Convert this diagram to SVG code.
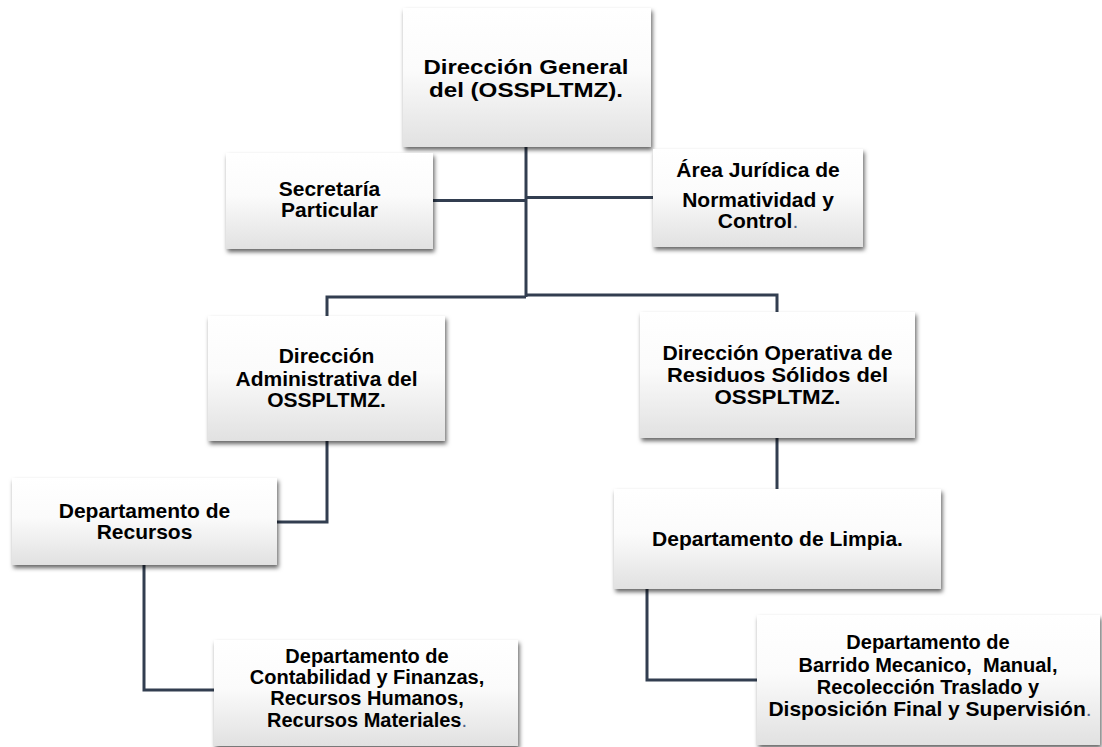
<svg xmlns="http://www.w3.org/2000/svg" width="1102" height="747" viewBox="0 0 1102 747">
<defs>
<linearGradient id="g" x1="0" y1="0" x2="0" y2="1">
<stop offset="0" stop-color="#ffffff"/>
<stop offset="0.45" stop-color="#fbfbfb"/>
<stop offset="1" stop-color="#e1e1e1"/>
</linearGradient>
<filter id="sh" x="-10%" y="-10%" width="125%" height="130%">
<feDropShadow dx="1.5" dy="3" stdDeviation="2.2" flood-color="#000" flood-opacity="0.6"/>
</filter>
</defs>
<style>
.box{fill:url(#g);filter:url(#sh);}
.t{font-family:"Liberation Sans",Arial,sans-serif;font-weight:bold;font-size:21px;fill:#000;text-anchor:middle;}
.dot{fill:#4f6185;font-weight:normal;}
.c{fill:none;stroke:#323e50;stroke-width:3;}
</style>
<rect width="1102" height="747" fill="#ffffff"/>
<g id="connectors">
<path class="c" d="M526,146 V297"/>
<path class="c" d="M433,200.5 H526"/>
<path class="c" d="M526,197.5 H653"/>
<path class="c" d="M327,316 V297 H526"/>
<path class="c" d="M526,295 H777 V312"/>
<path class="c" d="M327,440 V522 H277"/>
<path class="c" d="M777,438 V489"/>
<path class="c" d="M144,565 V690 H214"/>
<path class="c" d="M647,589 V680 H757"/>
</g>
<g id="n1">
<rect class="box" x="403" y="8" width="248" height="139"/>
<text class="t" x="526" y="74" textLength="205" lengthAdjust="spacingAndGlyphs">Dirección General</text>
<text class="t" x="526" y="97" textLength="194" lengthAdjust="spacingAndGlyphs">del (OSSPLTMZ).</text>
</g>
<g id="n2">
<rect class="box" x="226" y="153" width="207" height="96"/>
<text class="t" x="329.5" y="196">Secretaría</text>
<text class="t" x="329.5" y="217">Particular</text>
</g>
<g id="n3">
<rect class="box" x="653" y="149" width="210" height="98"/>
<text class="t" x="758" y="177">Área Jurídica de</text>
<text class="t" x="758" y="207">Normatividad y</text>
<text class="t" x="758" y="228">Control<tspan class="dot">.</tspan></text>
</g>
<g id="n4">
<rect class="box" x="208" y="316" width="237" height="125"/>
<text class="t" x="326.5" y="363">Dirección</text>
<text class="t" x="326.5" y="386">Administrativa del</text>
<text class="t" x="326.5" y="407">OSSPLTMZ.</text>
</g>
<g id="n5">
<rect class="box" x="640" y="312" width="275" height="126"/>
<text class="t" x="777.5" y="360" textLength="230" lengthAdjust="spacingAndGlyphs">Dirección Operativa de</text>
<text class="t" x="777.5" y="382" textLength="221" lengthAdjust="spacingAndGlyphs">Residuos Sólidos del</text>
<text class="t" x="777.5" y="404" textLength="126" lengthAdjust="spacingAndGlyphs">OSSPLTMZ.</text>
</g>
<g id="n6">
<rect class="box" x="12" y="478" width="265" height="87"/>
<text class="t" x="144.5" y="518">Departamento de</text>
<text class="t" x="144.5" y="539">Recursos</text>
</g>
<g id="n7">
<rect class="box" x="614" y="489" width="327" height="100"/>
<text class="t" x="777.5" y="546">Departamento de Limpia.</text>
</g>
<g id="n8">
<rect class="box" x="214" y="640" width="304" height="106"/>
<text class="t" x="367" y="663" style="font-size:20px">Departamento de</text>
<text class="t" x="367" y="684" style="font-size:20px">Contabilidad y Finanzas,</text>
<text class="t" x="367" y="705" style="font-size:20px">Recursos Humanos,</text>
<text class="t" x="367" y="727" style="font-size:20px">Recursos Materiales<tspan class="dot">.</tspan></text>
</g>
<g id="n9">
<rect class="box" x="757" y="615" width="343" height="130"/>
<text class="t" x="928" y="649" style="font-size:20px">Departamento de</text>
<text class="t" x="928" y="672" style="font-size:20px;white-space:pre" xml:space="preserve">Barrido Mecanico,  Manual,</text>
<text class="t" x="928" y="694" style="font-size:20px">Recolección Traslado y</text>
<text class="t" x="930" y="716">Disposición Final y Supervisión<tspan class="dot">.</tspan></text>
</g>
</svg>
